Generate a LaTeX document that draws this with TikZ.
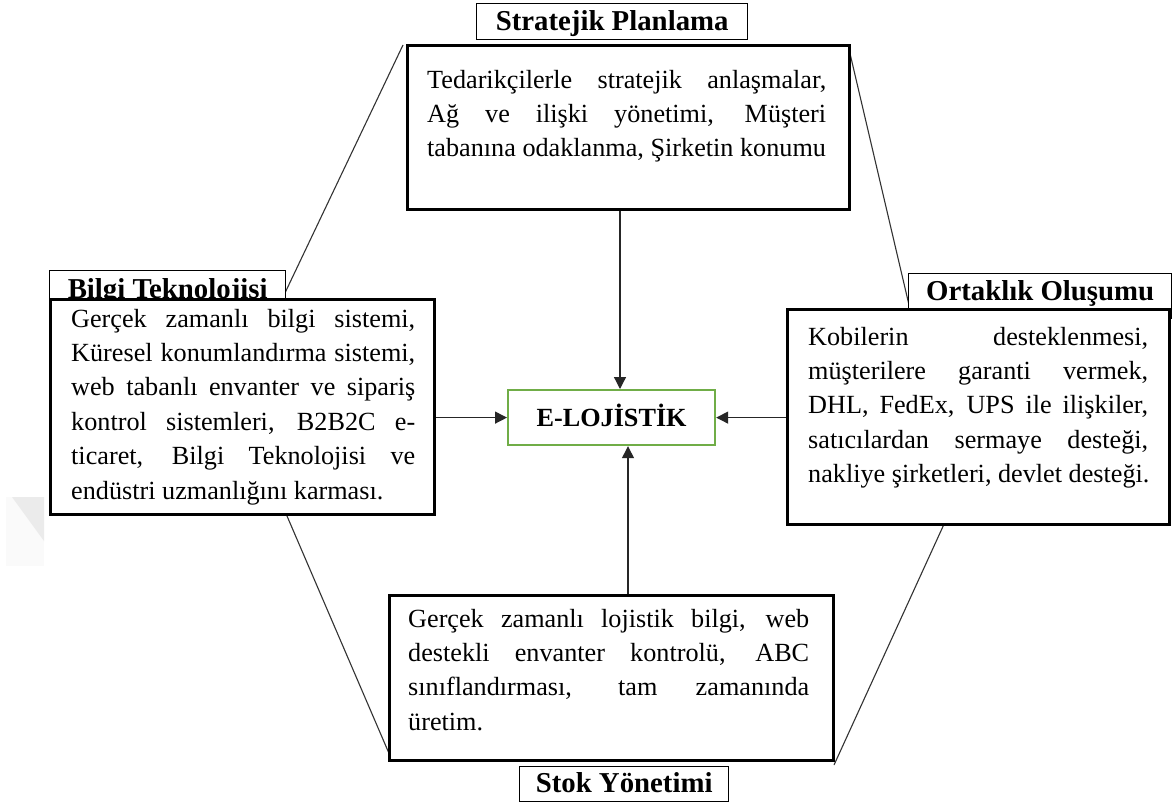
\documentclass[tikz,border=0pt]{standalone}
\usepackage{fontspec}
\setmainfont{Liberation Serif}
\usetikzlibrary{arrows.meta}
\definecolor{coregreen}{HTML}{70AD47}
% block of text lines: justified lines (\jl) and a natural last line (\nl)
\newcommand{\textblock}[2]{\vtop{\hsize=#1\baselineskip=34.4pt\lineskiplimit=-20pt\relax #2}}
\newcommand{\jl}[1]{\hbox to \hsize{#1}}
\newcommand{\nl}[1]{\hbox{#1}}
\begin{document}
\begin{tikzpicture}[x=1pt,y=-1pt,
  panel/.style={draw=black, line width=2.8pt, fill=white, inner sep=0pt, anchor=north west},
  titlebox/.style={draw=black, line width=1.3pt, fill=white, inner sep=0pt, anchor=north west},
  titletext/.style={inner sep=0pt, anchor=base, font=\fontsize{28.8}{34}\selectfont\bfseries},
  body/.style={inner sep=0pt, anchor=base west, font=\fontsize{26.2}{34.4}\selectfont},
  hexline/.style={draw=black!80, line width=1.1pt},
  arr/.style={draw=black!85, line width=1.3pt, -{Triangle[length=12pt,width=12pt]}},
  core/.style={draw=coregreen, line width=2.2pt, fill=white, inner sep=0pt, anchor=north west,
    text height=17.3pt, text depth=0pt, font=\fontsize{26.2}{30}\selectfont\bfseries}
]
\useasboundingbox (0,0) rectangle (1173,803);
\fill[white] (0,0) rectangle (1173,803);

% faint background mark at the left edge
\fill[black!2] (6,497) -- (44,497) -- (44,566) -- (6,566) -- cycle;
\fill[black!8] (12,497) -- (44,497) -- (44,541) -- cycle;

% outline connecting the four fields
\coordinate (h1a) at (403,45);  \coordinate (h1b) at (284,295);
\coordinate (h2a) at (848,45);  \coordinate (h2b) at (909,305);
\coordinate (h3a) at (287,516); \coordinate (h3b) at (391,758);
\coordinate (h4a) at (945,522); \coordinate (h4b) at (834,765);
\draw[hexline] (h1a) -- (h1b);
\draw[hexline] (h2a) -- (h2b);
\draw[hexline] (h3a) -- (h3b);
\draw[hexline] (h4a) -- (h4b);

% title boxes
\node[titlebox, minimum width=271pt, minimum height=36pt] (st) at (476,3) {};
\node[titletext] (stt) at ([yshift=-27pt]st.north) {Stratejik Planlama};
\node[titlebox, minimum width=236pt, minimum height=36pt] (bt) at (49,270) {};
\node[titletext] (btt) at ([yshift=-28pt]bt.north) {Bilgi Teknolojisi};
\node[titlebox, minimum width=263pt, minimum height=45pt] (ot) at (908,273) {};
\node[titletext] (ott) at ([yshift=-27pt]ot.north) {Ortaklık Oluşumu};
\node[titlebox, minimum width=209pt, minimum height=35pt] (kt) at (519,766) {};
\node[titletext] (ktt) at ([yshift=-26pt]kt.north) {Stok Yönetimi};

% content panels
\node[panel, minimum width=442pt, minimum height=164pt] (sp) at (406,44) {};
\node[body] (spt) at (427,88) {\textblock{399pt}{%
  \jl{Tedarikçilerle stratejik anlaşmalar,}
  \jl{Ağ ve ilişki yönetimi, Müşteri}
  \nl{tabanına odaklanma, Şirketin konumu}}};

\node[panel, minimum width=384pt, minimum height=215pt] (bp) at (49,298) {};
\node[body] (bpt) at (71,327) {\textblock{344pt}{%
  \jl{Gerçek zamanlı bilgi sistemi,}
  \jl{Küresel konumlandırma sistemi,}
  \jl{web tabanlı envanter ve sipariş}
  \jl{kontrol sistemleri, B2B2C e-}
  \jl{ticaret, Bilgi Teknolojisi ve}
  \nl{endüstri uzmanlığını karması.}}};

\node[panel, minimum width=382pt, minimum height=215pt] (op) at (786,308) {};
\node[body] (opt) at (808,345) {\textblock{340pt}{%
  \jl{Kobilerin desteklenmesi,}
  \jl{müşterilere garanti vermek,}
  \jl{DHL, FedEx, UPS ile ilişkiler,}
  \jl{satıcılardan sermaye desteği,}
  \nl{nakliye şirketleri, devlet desteği.}}};

\node[panel, minimum width=444pt, minimum height=165pt] (kp) at (388,594) {};
\node[body] (kpt) at (408,627) {\textblock{401pt}{%
  \jl{Gerçek zamanlı lojistik bilgi, web}
  \jl{destekli envanter kontrolü, ABC}
  \jl{sınıflandırması, tam zamanında}
  \nl{üretim.}}};

% centre
\node[core, minimum width=207pt, minimum height=55pt] (core) at (507,389) {E-LOJİSTİK};

% arrows into the centre
\coordinate (ax1) at (620,300);
\coordinate (ax2) at (628,500);
\draw[arr] (sp.south -| ax1) -- (core.north -| ax1);
\draw[arr] (kp.north -| ax2) -- (core.south -| ax2);
\draw[arr] (bp.east |- core.west) -- (core.west);
\draw[arr] (op.west |- core.east) -- (core.east);
\end{tikzpicture}
\end{document}
